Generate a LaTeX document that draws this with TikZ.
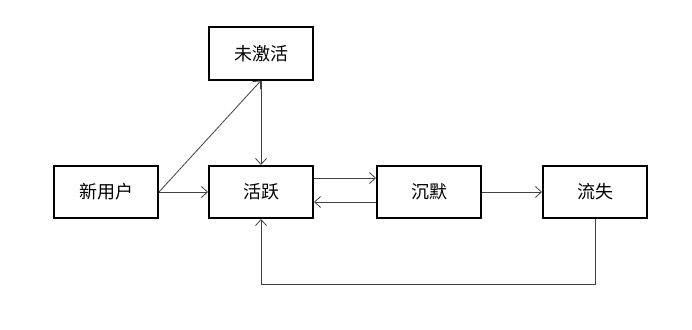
\documentclass[tikz,border=0pt]{standalone}
\usepackage{fontspec}
\setmainfont{Noto Sans CJK SC}
\usetikzlibrary{arrows.meta}
\begin{document}
\begin{tikzpicture}[x=1pt,y=-1pt,
  box/.style={draw=black,line width=2pt,minimum width=104pt,minimum height=52pt,inner sep=0pt,font=\fontsize{18}{20}\selectfont},
  conn/.style={draw=black!75,line width=0.8pt,-{Straight Barb[length=6pt,width=11pt]}},
  plain/.style={draw=black!75,line width=0.8pt}]
\useasboundingbox (0,0) rectangle (692,329);
\node[box] (new) at (106,192) {新用户};
\node[box] (act) at (261,192) {活跃};
\node[box] (ina) at (261,53.5) {未激活};
\node[box] (sil) at (429,192) {沉默};
\node[box] (lost) at (595,192) {流失};
\coordinate (corner) at (595,284);
\draw[conn] (new.east) -- (act.west);
\draw[conn] (new.east) -- (ina.south);
\draw[conn] (ina.south) -- (act.north);
\draw[conn] ([yshift=14pt]act.east) -- ([yshift=14pt]sil.west);
\draw[conn] ([yshift=-10pt]sil.west) -- ([yshift=-10pt]act.east);
\draw[conn] (sil.east) -- (lost.west);
\draw[conn] (lost.south) -- (corner) -| (act.south);
\end{tikzpicture}
\end{document}
